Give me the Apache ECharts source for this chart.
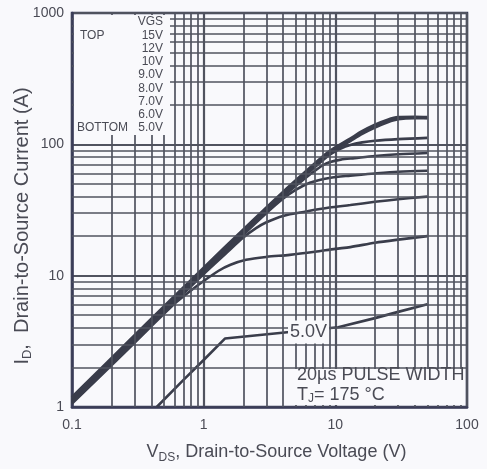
<!DOCTYPE html>
<html>
<head>
<meta charset="utf-8">
<script src="https://cdn.jsdelivr.net/npm/echarts@6/dist/echarts.min.js"></script>
<style>
html, body { margin: 0; padding: 0; background: #f9f9fc; }
#chart { width: 487px; height: 469px; }
</style>
</head>
<body>
<div id="chart"></div>
<script>
// output characteristics, [VDS (V), ID (A)]
const vgs15 = [[0.1,1.18],[0.3,3.5],[1,11.4],[2,22.3],[4,43],[6,62],[9,88],[13,110],[16,125],[20,140],[25,153],[30,160],[40,161],[50,160]];
const vgs12 = [[0.1,1.15],[0.3,3.42],[1,11.1],[2,21.8],[4,42],[6,60],[9,85],[13,106],[16,120],[20,134],[25,147],[30,155],[40,158],[50,158]];
const vgs10 = [[0.1,1.12],[0.3,3.35],[1,10.9],[2,21.3],[4,41],[6,58.5],[9,83],[11,93],[13,99],[16,103.5],[20,106.5],[30,109.5],[50,112]];
const vgs9 = [[0.1,1.1],[0.3,3.3],[1,10.7],[2,21],[4,40],[6,56],[7,63],[8,69],[9,73],[11,76.5],[14,78.5],[20,81.5],[30,84],[50,86]];
const vgs8 = [[0.1,1.09],[0.3,3.25],[1,10.5],[2,20.5],[3,30],[4,38.5],[5,45],[6.4,51],[9,55.5],[13,57.8],[20,60],[30,61.8],[50,63]];
const vgs7 = [[0.1,1.08],[0.3,3.2],[1,10.3],[1.5,15],[2,19.5],[2.5,23],[3,25.5],[4,28.5],[6,30.8],[9,33],[13,34.5],[20,36.5],[30,38.2],[50,40]];
const vgs6 = [[0.1,1.06],[0.3,3.1],[0.6,6.1],[0.8,7.7],[1,9.1],[1.3,10.9],[1.6,12.1],[2.1,13.2],[3,13.9],[4.5,14.4],[7,15.2],[10,16],[13,16.5],[20,17.8],[30,18.8],[50,20]];
const vgs5 = [[0.44,1],[0.7,1.6],[1,2.28],[1.45,3.32],[4.5,3.72],[10.5,4.05],[20,4.75],[30,5.3],[50,6.05]];

const vgsLabels = ['15V', '12V', '10V', '9.0V', '8.0V', '7.0V', '6.0V', '5.0V'];

// minor log grid lines
const xMinor = [0.2,0.3,0.4,0.5,0.6,0.7,0.8,0.9,2,3,4,5,6,7,8,9,20,30,40,50,60,70,80,90];
const yMinor = [2,3,4,5,6,7,8,9,20,30,40,50,60,70,80,90,200,300,400,500,600,700,800,900];

const bg = '#f9f9fc';
const ink = '#3a3d4b';
const gridInk = '#50535f';
const frame = '#3a3c58';
const txt = '#4a4b55';
const fontFam = '"Liberation Sans", Arial, sans-serif';

let chart = echarts.init(document.getElementById('chart'));

let curves = [vgs15, vgs12, vgs10, vgs9, vgs8, vgs7, vgs6, vgs5];
let series = [];

// grid lines as markLines so they sit on the log scale
series.push({
  type: 'line',
  data: [],
  silent: true,
  z: 1,
  markLine: {
    silent: true,
    symbol: 'none',
    label: { show: false },
    lineStyle: { color: gridInk, width: 1.7, type: 'solid' },
    data: xMinor.map(v => ({ xAxis: v })).concat(yMinor.map(v => ({ yAxis: v })))
  }
});

for (let i in curves) {
  series.push({
    name: vgsLabels[i],
    type: 'line',
    data: curves[i],
    showSymbol: false,
    smooth: i == 7 ? false : 0.3,
    z: 3,
    lineStyle: { color: ink, width: i == 0 ? 3.4 : 2.6 }
  });
}

// legend text block, top left
let legendLines = ['VGS'].concat(vgsLabels);
let legendEls = [{
  type: 'rect', z: 10, silent: true,
  shape: { x: 74, y: 15, width: 96, height: 120 },
  style: { fill: bg }
}];
for (let i in legendLines) {
  legendEls.push({
    type: 'text', z: 11,
    x: 163, y: 22 + i * 13.25,
    style: {
      text: legendLines[i], fill: txt, font: '12px ' + fontFam,
      textAlign: 'right', textVerticalAlign: 'middle'
    }
  });
}
legendEls.push({
  type: 'text', z: 11, x: 80, y: 35.25,
  style: { text: 'TOP', fill: txt, font: '12px ' + fontFam, textVerticalAlign: 'middle' }
});
legendEls.push({
  type: 'text', z: 11, x: 77, y: 128,
  style: { text: 'BOTTOM', fill: txt, font: '12px ' + fontFam, textVerticalAlign: 'middle' }
});

let xRich = {
  n: { fontSize: 18, color: txt, fontFamily: 'Liberation Sans', lineHeight: 24 },
  s: { fontSize: 12, color: txt, fontFamily: 'Liberation Sans', verticalAlign: 'bottom', lineHeight: 12 }
};

let option = {
  backgroundColor: bg,
  animation: false,
  grid: {
    left: 72, right: 20, top: 13, bottom: 62,
    outerBoundsMode: 'none',
    show: true, borderColor: frame, borderWidth: 2.5
  },
  xAxis: {
    type: 'log', logBase: 10, min: 0.1, max: 100,
    name: '{n|V}{s|DS}{n|, Drain-to-Source Voltage (V)}',
    nameLocation: 'middle', nameGap: 33,
    nameTextStyle: { rich: xRich, padding: [0, 0, 0, 14] },
    axisLine: { show: true, lineStyle: { color: frame, width: 2.5 } },
    axisTick: { show: false },
    axisLabel: {
      margin: 11, color: txt, fontSize: 14, fontFamily: 'Liberation Sans',
      formatter: v => String(+(+v).toPrecision(3))
    },
    splitLine: { show: true, lineStyle: { color: gridInk, width: 2.2 } }
  },
  yAxis: {
    type: 'log', logBase: 10, min: 1, max: 1000,
    axisLine: { show: true, lineStyle: { color: frame, width: 2.5 } },
    axisTick: { show: false },
    axisLabel: {
      margin: 8, color: txt, fontSize: 14, fontFamily: 'Liberation Sans',
      formatter: v => String(+(+v).toPrecision(3))
    },
    splitLine: { show: true, lineStyle: { color: gridInk, width: 2.2 } }
  },
  graphic: legendEls.concat([
    {
      // y axis title
      type: 'text', z: 11, x: 22, y: 226, rotation: Math.PI / 2,
      style: {
        text: '{n|I}{s|D}{n|,  Drain-to-Source Current (A)}',
        textAlign: 'center', textVerticalAlign: 'middle',
        rich: {
          n: { fontSize: 20, fill: txt, fontFamily: 'Liberation Sans', lineHeight: 24 },
          s: { fontSize: 13, fill: txt, fontFamily: 'Liberation Sans', verticalAlign: 'bottom', lineHeight: 13 }
        }
      }
    },
    {
      type: 'rect', z: 10, silent: true,
      shape: { x: 289, y: 369, width: 176, height: 36 },
      style: { fill: bg }
    },
    {
      type: 'text', z: 11, x: 297, y: 375,
      style: {
        text: '20µs PULSE WIDTH', fill: txt,
        font: '18px ' + fontFam, textVerticalAlign: 'middle'
      }
    },
    {
      type: 'text', z: 11, x: 297, y: 395,
      style: {
        text: '{n|T}{s|J}{n|= 175 °C}',
        textVerticalAlign: 'middle',
        rich: {
          n: { fontSize: 18, fill: txt, fontFamily: 'Liberation Sans', lineHeight: 20 },
          s: { fontSize: 12, fill: txt, fontFamily: 'Liberation Sans', verticalAlign: 'bottom', lineHeight: 12 }
        }
      }
    },
    {
      type: 'text', z: 11, x: 288, y: 332,
      style: {
        text: '5.0V', fill: txt, font: '18px ' + fontFam,
        textVerticalAlign: 'middle',
        backgroundColor: bg, padding: [3, 2, 2, 2]
      }
    }
  ]),
  series: series
};

chart.setOption(option);
</script>
</body>
</html>
